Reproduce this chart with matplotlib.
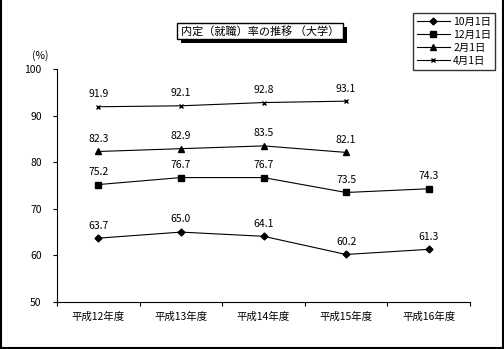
import matplotlib.pyplot as plt
from matplotlib.lines import Line2D
from matplotlib.patches import Rectangle

plt.rcParams['font.family'] = ['Noto Sans CJK JP', 'DejaVu Sans']

years = ['平成12年度', '平成13年度', '平成14年度', '平成15年度', '平成16年度']
oct1 = [63.7, 65.0, 64.1, 60.2, 61.3]
dec1 = [75.2, 76.7, 76.7, 73.5, 74.3]
feb1 = [82.3, 82.9, 83.5, 82.1]
apr1 = [91.9, 92.1, 92.8, 93.1]
names = ['10月1日', '12月1日', '2月1日', '4月1日']
markers = ['D', 's', '^', 'x']
sizes = [3.5, 4.5, 4.5, 3.5]

W, H = 504, 349
fig = plt.figure(figsize=(5.04, 3.49), dpi=100)
ax = fig.add_axes([57 / W, 1 - 302 / H, 413 / W, 233 / H])

for vals, name, m, s in zip([oct1, dec1, feb1, apr1], names, markers, sizes):
    x = list(range(len(vals)))
    ax.plot(x, vals, color='black', lw=0.8, marker=m, ms=s, mew=1, label=name)
    for xi, v in zip(x, vals):
        ax.annotate(f'{v:.1f}', (xi, v), xytext=(0, 5.5), textcoords='offset points',
                    ha='center', va='bottom', fontsize=7.5)

ax.set_xlim(-0.5, 4.5)
ax.set_ylim(50, 100)
ax.set_yticks([50, 60, 70, 80, 90, 100])
ax.set_xticks([i - 0.5 for i in range(6)])
ax.set_xticklabels([])
ax.set_xticks(range(5), minor=True)
ax.set_xticklabels(years, minor=True, fontsize=7.5)
ax.tick_params(axis='x', which='minor', length=0, pad=7)
ax.tick_params(axis='x', which='major', length=3, direction='out')
ax.tick_params(axis='y', length=3, direction='out', labelsize=7.5, pad=8)
for sp in ['top', 'right']:
    ax.spines[sp].set_visible(False)
for sp in ['left', 'bottom']:
    ax.spines[sp].set_linewidth(0.8)

fig.text(40 / W, 1 - 56 / H, '(%)', fontsize=7.5, ha='center', va='center')

# title box with shadow
tx0, ty0, tw, th = 177, 23, 166, 16
fig.add_artist(Rectangle(((tx0 + 4) / W, 1 - (ty0 + th + 4) / H), tw / W, th / H,
                         transform=fig.transFigure, fc='black', ec='none'))
fig.add_artist(Rectangle((tx0 / W, 1 - (ty0 + th) / H), tw / W, th / H,
                         transform=fig.transFigure, fc='white', ec='black', lw=1))
fig.text((tx0 + tw / 2) / W, 1 - (ty0 + th / 2) / H, '内定（就職）率の推移 （大学）',
         fontsize=8, ha='center', va='center')

handles = [Line2D([], [], color='black', lw=0.8, marker=m, ms=s) for m, s in zip(markers, sizes)]
lg = fig.legend(handles, names, loc='upper left', bbox_to_anchor=(413 / W, 1 - 13 / H),
                fontsize=7.5, frameon=True, fancybox=False, edgecolor='black',
                handlelength=3.2, handletextpad=0.3, labelspacing=0.3, borderpad=0.35,
                borderaxespad=0)
lg.get_frame().set_linewidth(1)

# outer border
fig.add_artist(Line2D([1 / W, 1 / W], [0, 1], transform=fig.transFigure, color='black', lw=1.5))
fig.add_artist(Line2D([503 / W, 503 / W], [0, 1], transform=fig.transFigure, color='black', lw=1.5))
fig.add_artist(Line2D([0, 1], [1 / H, 1 / H], transform=fig.transFigure, color='black', lw=1.5))

fig.savefig('out.png', dpi=100)
